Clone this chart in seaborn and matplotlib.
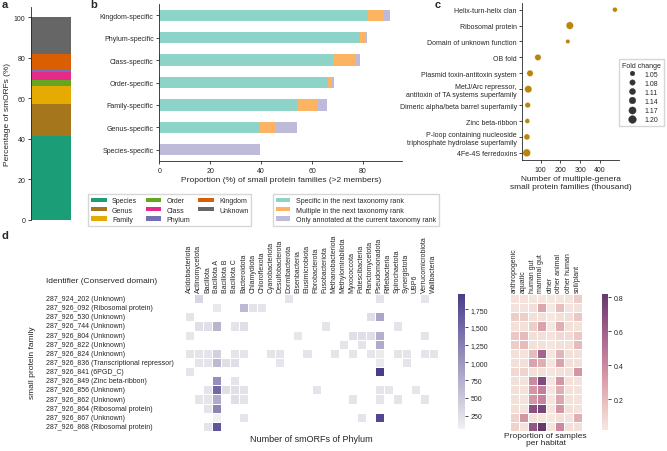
import matplotlib
matplotlib.use('Agg')  # sin GUI
import matplotlib.pyplot as plt
from matplotlib.patches import Patch
from matplotlib.ticker import FixedLocator, StrMethodFormatter
import seaborn as sns
import numpy as np
import pandas as pd

# ---------------- datos ----------------
# a: smORFs por rango taxonomico
rank_labels = ['Species', 'Genus', 'Family', 'Order', 'Class', 'Phylum', 'Kingdom', 'Unknown']
rank_pct = [41.5, 15.5, 9.1, 2.8, 4.1, 1.6, 7.0, 18.4]
rank_colors = ['#1b9e77', '#a6761d', '#e6ab02', '#66a61e', '#e7298a', '#7570b3', '#d95f02', '#666666']

# b: familias especificas por rango
spec_levels = ['Kingdom-specific', 'Phylum-specific', 'Class-specific', 'Order-specific',
               'Family-specific', 'Genus-specific', 'Species-specific']
spec_next = [81.8, 78.9, 68.7, 66.3, 54.2, 39.7, 0.0]
spec_multi = [6.0, 2.2, 8.3, 1.1, 7.6, 6.1, 0.0]
spec_only = [3.0, 0.6, 1.9, 1.3, 4.2, 8.4, 39.7]
spec_names = ['Specific in the next taxonomy rank', 'Multiple in the next taxonomy rank',
              'Only annotated at the current taxonomy rank']
spec_colors = ['#8dd3c7', '#fdb462', '#bebada']

# c: dominios en familias multi-genero
domains = ['Helix-turn-helix clan', 'Ribosomal protein', 'Domain of unknown function', 'OB fold',
           'Plasmid toxin-antitoxin system',
           'MetJ/Arc repressor,\nantitoxin of TA systems superfamily',
           'Dimeric alpha/beta barrel superfamily', 'Zinc beta-ribbon',
           'P-loop containing nucleoside\ntriphosphate hydrolase superfamily', '4Fe-4S ferredoxins']
domain_families = [477, 248, 238, 86, 46, 37, 34, 32, 30, 29]
fold_change = [1.06, 1.19, 1.04, 1.13, 1.13, 1.18, 1.09, 1.06, 1.11, 1.21]

# d: familias vs phylum / habitat
families = ['287_924_202 (Unknown)', '287_926_092 (Ribosomal protein)', '287_926_530 (Unknown)',
            '287_926_744 (Unknown)', '287_926_804 (Unknown)', '287_926_822 (Unknown)',
            '287_926_824 (Unknown)', '287_926_836 (Transcriptional repressor)', '287_926_841 (6PGD_C)',
            '287_926_849 (Zinc beta-ribbon)', '287_926_856 (Unknown)', '287_926_862 (Unknown)',
            '287_926_864 (Ribosomal protein)', '287_926_867 (Unknown)', '287_926_868 (Ribosomal protein)']
phyla = ['Acidobacteriota', 'Actinomycetota', 'Bacillota', 'Bacillota A', 'Bacillota B', 'Bacillota C',
         'Bacteroidota', 'Chlamydiota', 'Chloroflexota', 'Cyanobacteriota', 'Desulfobacterota',
         'Dormibacterota', 'Eisenbacteria', 'Elusimicrobiota', 'Fibrobacterota', 'Fusobacteriota',
         'Methanobacteriota', 'Methylomirabilota', 'Myxococcota', 'Patescibacteria', 'Planctomycetota',
         'Pseudomonadota', 'Riflebacteria', 'Spirochaetota', 'Synergistota', 'UBP6',
         'Verrucomicrobiota', 'Wallbacteria']
phylum_counts = [
    [0, 350, 0, 0, 0, 0, 0, 0, 0, 0, 0, 180, 0, 0, 0, 0, 0, 0, 0, 0, 0, 200, 0, 0, 0, 0, 180, 0],
    [0, 0, 0, 150, 0, 0, 650, 220, 200, 0, 0, 0, 0, 0, 0, 0, 0, 0, 0, 0, 0, 0, 0, 0, 0, 0, 0, 0],
    [200, 0, 0, 0, 0, 0, 0, 0, 0, 0, 0, 0, 0, 0, 0, 0, 0, 0, 0, 0, 250, 850, 0, 0, 0, 0, 0, 0],
    [0, 250, 250, 700, 0, 200, 250, 0, 0, 0, 0, 0, 0, 0, 0, 200, 0, 0, 0, 0, 0, 0, 0, 200, 0, 0, 0, 0],
    [180, 0, 0, 0, 0, 0, 0, 0, 0, 0, 0, 0, 180, 0, 0, 0, 0, 0, 250, 250, 250, 750, 0, 0, 0, 0, 200, 0],
    [0, 0, 0, 0, 0, 0, 0, 0, 0, 0, 0, 0, 0, 0, 0, 0, 0, 200, 0, 200, 0, 800, 0, 0, 0, 0, 0, 0],
    [200, 200, 200, 400, 0, 200, 200, 0, 0, 200, 200, 0, 0, 180, 0, 0, 200, 0, 180, 0, 180, 120, 0, 200, 200, 0, 200, 200],
    [0, 200, 200, 650, 250, 250, 0, 0, 0, 0, 180, 0, 0, 0, 0, 0, 0, 0, 0, 0, 0, 150, 0, 0, 200, 0, 0, 0],
    [180, 0, 0, 0, 0, 0, 0, 0, 0, 0, 0, 0, 0, 0, 0, 0, 0, 0, 0, 0, 0, 1966, 0, 0, 0, 0, 0, 0],
    [0, 0, 0, 1100, 0, 200, 0, 0, 0, 0, 0, 0, 0, 0, 0, 0, 0, 0, 0, 0, 0, 0, 0, 0, 0, 0, 0, 0],
    [0, 0, 200, 1500, 250, 250, 220, 0, 0, 0, 0, 0, 0, 0, 200, 0, 0, 0, 0, 0, 0, 180, 180, 0, 0, 180, 0, 0],
    [0, 200, 200, 800, 0, 250, 200, 0, 0, 0, 0, 0, 0, 0, 0, 0, 0, 0, 200, 0, 0, 180, 0, 200, 0, 0, 200, 0],
    [0, 0, 200, 1200, 0, 0, 0, 0, 0, 0, 0, 0, 0, 0, 0, 0, 0, 0, 0, 0, 0, 0, 0, 0, 0, 0, 0, 0],
    [0, 0, 0, 60, 0, 0, 200, 0, 0, 0, 0, 0, 0, 0, 0, 0, 0, 0, 0, 200, 0, 1850, 0, 0, 0, 0, 0, 0],
    [0, 0, 200, 1700, 0, 0, 0, 0, 0, 0, 0, 0, 0, 0, 0, 0, 0, 0, 0, 0, 0, 0, 0, 0, 0, 0, 0, 0],
]
habitats = ['anthropogenic', 'aquatic', 'human gut', 'mammal gut', 'other', 'other animal',
            'other human', 'soil/plant']
habitat_prop = [
    [0.04, 0.04, 0.03, 0.03, 0.02, 0.03, 0.03, 0.12],
    [0.04, 0.04, 0.06, 0.28, 0.02, 0.18, 0.04, 0.05],
    [0.12, 0.12, 0.05, 0.05, 0.02, 0.06, 0.06, 0.15],
    [0.05, 0.05, 0.12, 0.30, 0.02, 0.25, 0.05, 0.04],
    [0.15, 0.20, 0.06, 0.06, 0.04, 0.08, 0.07, 0.15],
    [0.12, 0.20, 0.05, 0.05, 0.03, 0.05, 0.05, 0.20],
    [0.05, 0.04, 0.20, 0.58, 0.03, 0.22, 0.05, 0.05],
    [0.05, 0.05, 0.30, 0.25, 0.03, 0.30, 0.05, 0.05],
    [0.08, 0.10, 0.05, 0.05, 0.03, 0.05, 0.05, 0.35],
    [0.05, 0.04, 0.40, 0.72, 0.03, 0.35, 0.05, 0.04],
    [0.05, 0.04, 0.35, 0.45, 0.03, 0.25, 0.05, 0.04],
    [0.05, 0.04, 0.35, 0.42, 0.03, 0.28, 0.05, 0.04],
    [0.05, 0.04, 0.68, 0.75, 0.03, 0.35, 0.05, 0.04],
    [0.10, 0.35, 0.04, 0.03, 0.02, 0.05, 0.04, 0.25],
    [0.10, 0.04, 0.65, 0.82, 0.03, 0.40, 0.05, 0.05],
]

# ---------------- estilo ----------------
sns.set_theme(style='ticks')
plt.rcParams['font.family'] = ['Liberation Sans', 'DejaVu Sans']
plt.rcParams.update({
    'font.size': 5, 'axes.labelsize': 6, 'xtick.labelsize': 5, 'ytick.labelsize': 5,
    'legend.fontsize': 5, 'axes.linewidth': 0.6, 'xtick.major.width': 0.6,
    'ytick.major.width': 0.6, 'xtick.major.size': 2.5, 'ytick.major.size': 2.5,
    'xtick.major.pad': 1.5, 'ytick.major.pad': 1.5, 'axes.labelpad': 2,
})

W, H = 667, 452
fig = plt.figure(figsize=(W / 100, H / 100), dpi=100)


def px_axes(x0, y0, x1, y1):
    return fig.add_axes([x0 / W, 1 - y1 / H, (x1 - x0) / W, (y1 - y0) / H])


# ---- a ----
ax_a = px_axes(31, 8, 71, 221)
bottom = 0
for lab, val, col in zip(rank_labels, rank_pct, rank_colors):
    ax_a.bar(0, val, bottom=bottom, width=1, color=col, label=lab, linewidth=0)
    bottom += val
ax_a.set_xlim(-0.5, 0.5)
ax_a.set_xticks([])
ax_a.set_yticks([0, 20, 40, 60, 80, 100])
ax_a.set_ylabel('Percentage of smORFs (%)')
sns.despine(ax=ax_a, bottom=True)
fig.legend(handles=[Patch(color=c, label=l, linewidth=0) for l, c in zip(rank_labels, rank_colors)],
           ncol=3, loc='upper left', bbox_to_anchor=(85 / W, 1 - 192 / H), frameon=True,
           handlelength=2.2, handleheight=0.6, columnspacing=1.2, labelspacing=0.35,
           borderpad=0.4, fancybox=False)

# ---- b ----
ax_b = px_axes(159.3, 5, 402, 162)
df_b = pd.DataFrame({'level': spec_levels, 'next': spec_next, 'multi': spec_multi, 'only': spec_only})
df_b['cum_multi'] = df_b['next'] + df_b['multi']
df_b['cum_only'] = df_b['cum_multi'] + df_b['only']
for col, c in zip(['cum_only', 'cum_multi', 'next'], spec_colors[::-1]):
    sns.barplot(data=df_b, y='level', x=col, color=c, width=0.5, saturation=1,
                errorbar=None, orient='h', linewidth=0, ax=ax_b)
ax_b.set_ylabel('')
ax_b.set_xlabel('Proportion (%) of small protein families (>2 members)')
sns.despine(ax=ax_b)
ax_b.legend(handles=[Patch(color=c, label=l, linewidth=0) for l, c in zip(spec_names, spec_colors)],
            loc='upper left', bbox_to_anchor=(270 / W, 1 - 192 / H), bbox_transform=fig.transFigure,
            frameon=True, handlelength=2.0, handleheight=0.6, labelspacing=0.35, borderpad=0.4,
            fancybox=False)

# ---- c ----
ax_c = px_axes(522.3, 3.5, 619.3, 161)
df_c = pd.DataFrame({'domain': domains, 'families': domain_families, 'fold': fold_change})
sns.scatterplot(data=df_c, x='families', y='domain', size='fold', sizes=(10, 32),
                color='#b8860b', legend='brief', ax=ax_c)
if not ax_c.yaxis_inverted():
    ax_c.invert_yaxis()
ax_c.set_xticks([100, 200, 300, 400])
ax_c.set_ylabel('')
ax_c.set_xlabel('Number of multiple-genera\nsmall protein families (thousand)')
sns.despine(ax=ax_c)
leg_c = ax_c.legend(title='Fold change', loc='center left', bbox_to_anchor=(1.0, 0.43), frameon=True,
                    title_fontsize=5, borderaxespad=0, fancybox=False, labelspacing=0.3)
# marcadores de la leyenda en gris oscuro
for h in leg_c.legend_handles:
    if hasattr(h, 'set_markerfacecolor'):
        h.set_markerfacecolor('.2')
        h.set_markeredgecolor('.2')
    else:
        h.set_facecolor('.2')
        h.set_edgecolor('.2')

# ---- d ----
ax_d = px_axes(185, 295, 438, 432)
cax_d = px_axes(458, 295, 465, 430)
counts = pd.DataFrame(np.array(phylum_counts, dtype=float), index=families, columns=phyla)
sns.heatmap(counts, mask=counts == 0, cmap=sns.light_palette('darkslateblue', as_cmap=True),
            linewidths=0.6, linecolor='white', cbar_ax=cax_d, ax=ax_d)
ax_d.xaxis.tick_top()
ax_d.set_xticklabels(phyla, rotation=90)
ax_d.xaxis.set_label_position('bottom')
ax_d.set_xlabel('Number of smORFs of Phylum', fontsize=6.5)
ax_d.set_ylabel('')
ax_d.tick_params(axis='both', length=0)
ax_d.tick_params(axis='y', pad=100)
for t in ax_d.get_yticklabels():
    t.set_horizontalalignment('left')
cax_d.yaxis.set_major_locator(FixedLocator([250, 500, 750, 1000, 1250, 1500, 1750]))
cax_d.yaxis.set_major_formatter(StrMethodFormatter('{x:,.0f}'))

ax_h = px_axes(509.5, 295, 581.5, 432)
cax_h = px_axes(601.7, 295, 608.3, 430.7)
props = pd.DataFrame(habitat_prop, index=families, columns=habitats)
sns.heatmap(props, cmap=sns.cubehelix_palette(light=0.92, dark=0.3, as_cmap=True),
            linewidths=0.6, linecolor='white', cbar_ax=cax_h, ax=ax_h, yticklabels=False)
ax_h.xaxis.tick_top()
ax_h.set_xticklabels(habitats, rotation=90)
ax_h.xaxis.set_label_position('bottom')
ax_h.set_xlabel('Proportion of samples\nper habitat', fontsize=6, labelpad=1, linespacing=1.0)
ax_h.set_ylabel('')
ax_h.tick_params(axis='both', length=0)
cax_h.yaxis.set_major_locator(FixedLocator([0.2, 0.4, 0.6, 0.8]))

fig.text(46 / W, 1 - 282 / H, 'Identifier (Conserved domain)', fontsize=6, ha='left', va='center')
fig.text(33 / W, 1 - 363 / H, 'small protein family', fontsize=6, rotation=90, ha='center', va='center')

# letras de panel
for lab, x, y in [('a', 2, 5), ('b', 90, 5), ('c', 435, 5), ('d', 2, 236)]:
    fig.text(x / W, 1 - y / H, lab, fontsize=8, fontweight='bold', ha='left', va='center')

fig.savefig('out.png', dpi=100)
plt.close(fig)
